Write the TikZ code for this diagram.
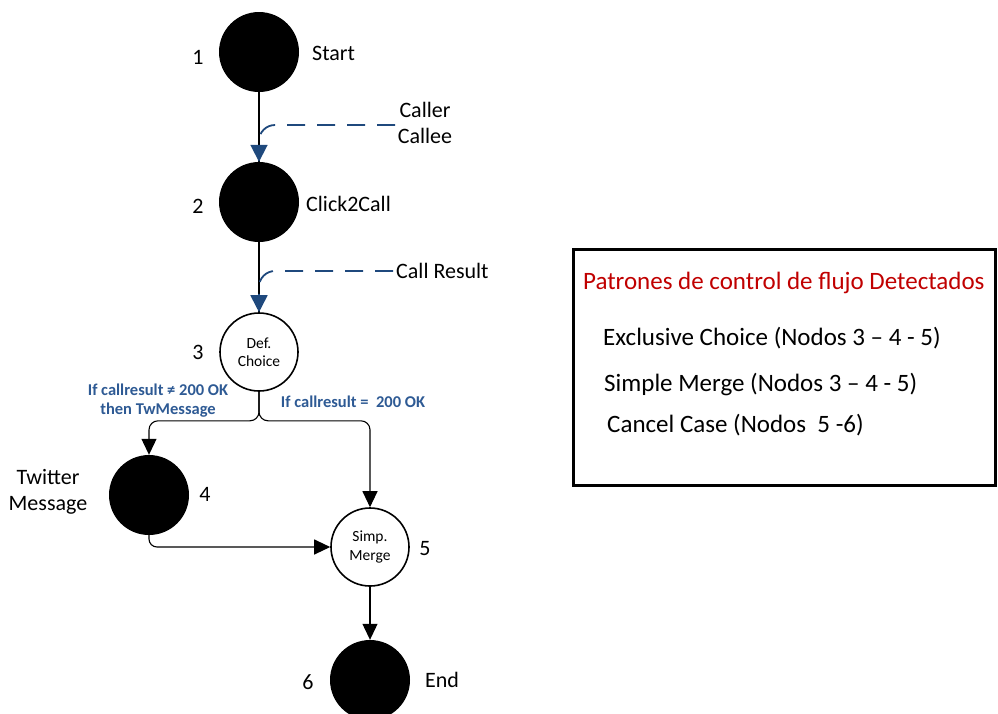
\documentclass[tikz,border=0pt]{standalone}
\usepackage{fontspec}
\setmainfont{Carlito}
\usetikzlibrary{arrows.meta}
\definecolor{flowblue}{HTML}{1F497D}
\definecolor{labelblue}{HTML}{2E5A94}
\definecolor{titlered}{HTML}{C00000}
\begin{document}
\begin{tikzpicture}[x=1pt,y=-1pt,
  solid node/.style={circle,fill=black,minimum size=80pt,inner sep=0pt},
  gate node/.style={circle,draw=black,line width=1.6pt,fill=white,minimum size=78pt,inner sep=0pt,align=center,font=\fontsize{15.5}{18.5}\selectfont},
  tag/.style={font=\fontsize{22}{26}\selectfont,align=center,inner sep=0pt},
  flow/.style={draw=black,line width=1.1pt,-{Triangle[length=16pt,width=15pt]}},
  plain/.style={draw=black,line width=1.1pt},
  data/.style={draw=flowblue,line width=1.8pt,dash pattern=on 18pt off 12pt,-{Triangle[length=17pt,width=17pt,fill=flowblue]}},
  cond/.style={font=\bfseries\fontsize{16.5}{19}\selectfont,text=labelblue,align=center,inner sep=0pt},
  boxtext/.style={font=\fontsize{25}{30}\selectfont,anchor=west,inner sep=0pt},
  ]
\useasboundingbox (0,0) rectangle (998,713);

% process nodes
\node[solid node] (n1) at (259,52) {};
\node[solid node] (n2) at (259,202) {};
\node[gate node] (n3) at (259,352) {Def.\\Choice};
\node[solid node] (n4) at (149,495) {};
\node[gate node] (n5) at (370,547) {Simp.\\Merge};
\node[solid node] (n6) at (370,680) {};

% numbers and names
\node[tag] (k1) at (198,57) {1};
\node[tag,anchor=west] (t1) at (312,53) {Start};
\node[tag] (k2) at (198,206) {2};
\node[tag,anchor=west] (t2) at (306,204) {Click2Call};
\node[tag] (k3) at (198,352) {3};
\node[tag] (k4) at (205,494) {4};
\node[tag] (t4) at (48,492) {Twitter\\Message};
\node[tag] (k5) at (425,549) {5};
\node[tag] (k6) at (308,682) {6};
\node[tag,anchor=west] (t6) at (425,680) {End};

% data labels
\node[tag] (d1) at (425,123) {Caller\\Callee};
\node[tag,anchor=west] (d2) at (396,271) {Call Result};
\coordinate (d1end) at (395,125);
\coordinate (d2end) at (393,271);

% control flow
\draw[plain] (n1) -- (n2);
\draw[plain] (n2) -- (n3);
\draw[data] (d1end) -- ++(-120,0) to[out=180,in=90] ++(-16,16) -- (n2.north);
\draw[data] (d2end) -- ++(-118,0) to[out=180,in=90] ++(-16,16) -- (n3.north);

\draw[flow,rounded corners=9pt] (n3.south) -- ++(0,29) -| (n4.north);
\draw[flow,rounded corners=9pt] (n3.south) -- ++(0,29) -| (n5.north);
\draw[flow,rounded corners=8pt] (n4.south) |- (n5.west);
\draw[flow] (n5) -- (n6);

% branch conditions
\node[cond] (c1) at (158,401) {If callresult ≠ 200 OK\\then TwMessage};
\node[cond] (c2) at (353,402) {If callresult =\ \ 200 OK};

% summary box
\node[draw=black,line width=3pt,minimum width=422pt,minimum height=236pt,inner sep=0pt] (box) at (784,367) {};
\node[boxtext,text=titlered] (b0) at (583,283) {Patrones de control de flujo Detectados};
\node[boxtext] (b1) at (603,338) {Exclusive Choice (Nodos 3 – 4 - 5)};
\node[boxtext] (b2) at (604,384) {Simple Merge (Nodos 3 – 4 - 5)};
\node[boxtext] (b3) at (607,425) {Cancel Case (Nodos\ \ 5 -6)};
\end{tikzpicture}
\end{document}
